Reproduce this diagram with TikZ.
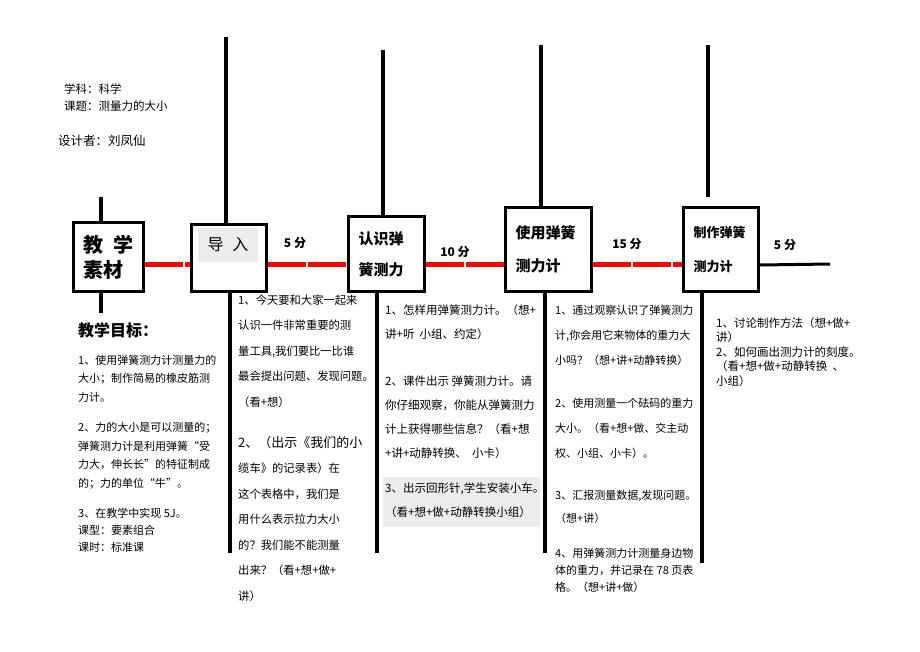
\documentclass[tikz,border=0pt]{standalone}
\usepackage{fontspec}
\setmainfont{Noto Sans CJK SC}

\begin{document}
\begin{tikzpicture}[x=1pt,y=-1pt,
    stagebox/.style={draw,line width=3pt,anchor=north west,inner xsep=10pt,inner ysep=0pt,align=left},
    stem/.style={line width=4pt},
    redlink/.style={red,line width=5pt,dash pattern=on 38pt off 2pt},
    notes/.style={anchor=north west,inner sep=0pt,align=left},
    minutes/.style={font=\fontsize{12}{14}\selectfont\bfseries}]
    \useasboundingbox[fill=white] (0,0) rectangle (920,651);

    % heading
    \node[notes,font=\fontsize{11.5}{17}\selectfont] (subject) at (64,84) {学科：科学\\课题：测量力的大小};
    \node[notes,font=\fontsize{12.5}{15}\selectfont] (designer) at (58,135) {设计者：刘凤仙};

    % stages
    \node[stagebox,minimum width=70,minimum height=69,text width=50,font=\fontsize{20}{25}\selectfont\bfseries] (mat) at (72,221) {教\hspace{10pt}学\\素材};
    \node[stagebox,minimum width=75,minimum height=67] (intro) at (190,223) {};
    \node[fill=gray!15,minimum width=60,minimum height=34,inner sep=0pt,font=\fontsize{16}{18}\selectfont] (introlbl) at (228,245) {导\hspace{9pt}入};
    \node[stagebox,minimum width=76,minimum height=75,text width=56,font=\fontsize{15}{31}\selectfont\bfseries] (know) at (347,215) {认识弹\\簧测力};
    \node[stagebox,minimum width=86,minimum height=84,text width=66,font=\fontsize{15}{33}\selectfont\bfseries] (use) at (504,206) {使用弹簧\\测力计};
    \node[stagebox,minimum width=75,minimum height=84,text width=55,font=\fontsize{13}{34}\selectfont\bfseries] (make) at (682,206) {制作弹簧\\测力计};

    % stems above and below
    \coordinate (mattop) at (101,197);
    \coordinate (introtop) at (226,37);
    \coordinate (knowtop) at (383,50);
    \coordinate (usetop) at (541,45);
    \coordinate (maketop) at (708,45);
    \coordinate (makestop) at (708,197);
    \coordinate (matbot) at (101,313);
    \coordinate (introbot) at (230,553);
    \coordinate (knowbot) at (377,553);
    \coordinate (usebot) at (545,553);
    \coordinate (makebot) at (702,563);
    \coordinate (endpt) at (830,264);

    \draw[stem] (mattop) -- (mat.north -| mattop);
    \draw[stem] (introtop) -- (intro.north -| introtop);
    \draw[stem] (knowtop) -- (know.north -| knowtop);
    \draw[stem] (usetop) -- (use.north -| usetop);
    \draw[stem] (maketop) -- (makestop);
    \draw[stem] (mat.south -| matbot) -- (matbot);
    \draw[stem,line width=3.5pt] (intro.south -| introbot) -- (introbot);
    \draw[stem,line width=3.5pt] (know.south -| knowbot) -- (knowbot);
    \draw[stem,line width=3.5pt] (use.south -| usebot) -- (usebot);
    \draw[stem,line width=3.5pt] (make.south -| makebot) -- (makebot);

    % time line
    \draw[redlink] (mat.east |- 0,264) -- (intro.west |- 0,264);
    \draw[redlink] (intro.east |- 0,264) -- (know.west |- 0,264);
    \draw[redlink] (know.east |- 0,264) -- (use.west |- 0,264);
    \draw[redlink] (use.east |- 0,264) -- (make.west |- 0,264);
    \draw[line width=3pt] (make.east |- 0,265) -- (endpt);

    \node[minutes] (t1) at (295,243) {5 分};
    \node[minutes] (t2) at (455,252) {10 分};
    \node[minutes] (t3) at (627,244) {15 分};
    \node[minutes] (t4) at (785,245) {5 分};

    % goals
    \node[notes,font=\fontsize{16}{18}\selectfont\bfseries] (goal) at (78,322) {教学目标：};
    \node[notes,font=\fontsize{11}{18.5}\selectfont] (matnotes) at (78,354.5) {1、使用弹簧测力计测量力的\\大小；制作简易的橡皮筋测\\力计。\\[12pt]2、力的大小是可以测量的；\\弹簧测力计是利用弹簧“受\\力大，伸长长”的特征制成\\的；力的单位“牛”。\\[12pt]3、在教学中实现 5J。\\[-1.5pt]课型：要素组合\\[-1.5pt]课时：标准课};

    % steps of each stage
    \node[notes,font=\fontsize{11.3}{25.5}\selectfont] (intronotes) at (238,294.3) {1、今天要和大家一起来\\认识一件非常重要的测\\量工具,我们要比一比谁\\最会提出问题、发现问题。\\（看+想）\\[15.5pt]\fontsize{13}{25.5}\selectfont 2、（出示《我们的小\\缆车》的记录表）在\\这个表格中，我们是\\用什么表示拉力大小\\的？我们能不能测量\\出来？（看+想+做+\\讲）};

    \fill[gray!15] (383,477) rectangle (540,527);
    \node[notes,font=\fontsize{11.5}{24}\selectfont] (knownotes) at (385,304.2) {1、怎样用弹簧测力计。（想+\\讲+听\ \ 小组、约定）\\[23pt]2、课件出示 弹簧测力计。请\\你仔细观察，你能从弹簧测力\\计上获得哪些信息？（看+想\\+讲+动静转换、\ \ 小卡）\\[11pt]3、出示回形针,学生安装小车。\\（看+想+做+动静转换小组）};

    \node[notes,font=\fontsize{11}{25}\selectfont] (usenotes) at (555,304.5) {1、通过观察认识了弹簧测力\\计,你会用它来物体的重力大\\小吗？（想+讲+动静转换）\\[18pt]2、使用测量一个砝码的重力\\大小。（看+想+做、交主动\\权、小组、小卡）。\\[17pt]3、汇报测量数据,发现问题。\\[-2pt]（想+讲）\\[10pt]4、用弹簧测力计测量身边物\\[-8pt]体的重力，并记录在 78 页表\\[-8pt]格。（想+讲+做）};

    \node[notes,font=\fontsize{11.5}{14.5}\selectfont] (makenotes) at (716,317.2) {1、讨论制作方法（想+做+\\讲）\\2、如何画出测力计的刻度。\\（看+想+做+动静转换\ \ 、\\小组）};
\end{tikzpicture}
\end{document}
